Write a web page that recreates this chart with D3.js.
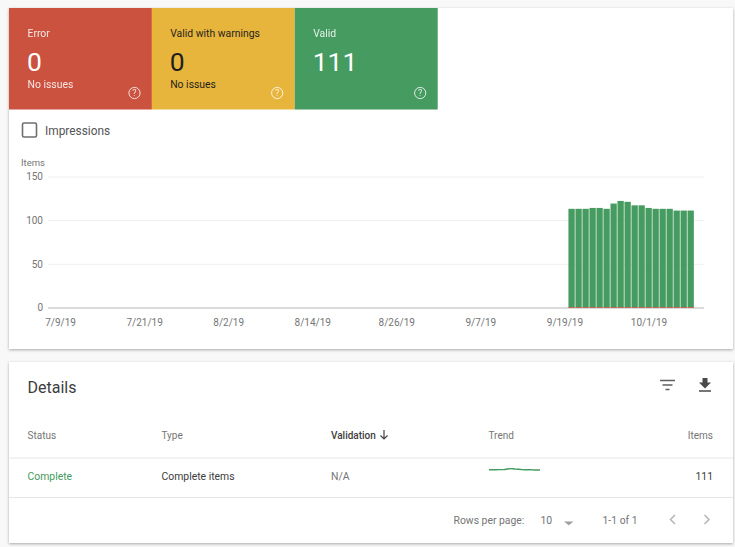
<!DOCTYPE html>
<html>
<head>
<meta charset="utf-8">
<script src="https://cdn.jsdelivr.net/npm/d3@7"></script>
<style>
  html, body { margin: 0; padding: 0; background: #f8f8f8; overflow: hidden; }
  svg { display: block; font-family: Roboto, sans-serif; }
</style>
</head>
<body>
<div id="chart"></div>
<script>
const width = 735, height = 547;

// summary tiles
const tileNames = ["Error", "Valid with warnings", "Valid"];
const tileCounts = ["0", "0", "111"];
const tileNotes = ["No issues", "No issues", ""];
const tileColors = ["#cc5240", "#e8b53c", "#459b60"];
const tileInk = ["#ffffff", "#1f1f1f", "#ffffff"];

// chart data
const firstValidDay = [2019, 8, 20];
const validValues = [113, 113, 113, 114, 114, 113, 119, 122, 121, 117, 117, 114, 113, 113, 113, 111, 111, 111];
const yTicks = [0, 50, 100, 150];
const xTickDays = [[2019, 6, 9], [2019, 6, 21], [2019, 7, 2], [2019, 7, 14], [2019, 7, 26], [2019, 8, 7], [2019, 8, 19], [2019, 9, 1]];

// details table
const columns = ["Status", "Type", "Validation", "Trend", "Items"];
const rowValues = ["Complete", "Complete items", "N/A", "", "111"];

const svg = d3.select("#chart").append("svg")
    .attr("width", width)
    .attr("height", height);

const defs = svg.append("defs");
const shadow = defs.append("filter").attr("id", "shadow")
    .attr("x", "-3%").attr("y", "-5%").attr("width", "106%").attr("height", "112%");
shadow.append("feDropShadow")
    .attr("dx", 0).attr("dy", 1).attr("stdDeviation", 1.5)
    .attr("flood-color", "#000").attr("flood-opacity", 0.32);

// the two cards
svg.selectAll("rect.card")
    .data([[8, 341], [362, 181]])
    .enter().append("rect")
    .attr("class", "card")
    .attr("x", 9).attr("y", d => d[0])
    .attr("width", 724).attr("height", d => d[1])
    .attr("fill", "#fff")
    .attr("filter", "url(#shadow)");

function helpIcon(g, cx, cy, color) {
    g.append("circle").attr("cx", cx).attr("cy", cy).attr("r", 5.6)
        .attr("fill", "none").attr("stroke", color).attr("stroke-width", 1).attr("opacity", 0.8);
    g.append("text").attr("x", cx).attr("y", cy + 3.2)
        .attr("text-anchor", "middle").attr("font-size", 9)
        .attr("fill", color).attr("opacity", 0.8).text("?");
}

// tiles
const tile = svg.selectAll("g.tile")
    .data(tileNames)
    .enter().append("g")
    .attr("class", "tile")
    .attr("transform", (d, i) => `translate(${9 + i * 143 - (i ? 0.3 : 0)},8)`);

tile.append("rect")
    .attr("width", 143).attr("height", 101.5)
    .attr("fill", (d, i) => tileColors[i]);
tile.append("text")
    .attr("x", 18.5).attr("y", 29)
    .attr("font-size", 10.4)
    .attr("fill", (d, i) => tileInk[i])
    .attr("opacity", (d, i) => i === 1 ? 1 : 0.85)
    .text(d => d);
tile.append("text")
    .attr("x", 18).attr("y", 62.5)
    .attr("font-size", 26.5)
    .attr("fill", (d, i) => tileInk[i])
    .text((d, i) => tileCounts[i]);
tile.append("text")
    .attr("x", 18.5).attr("y", 87.5 - 8)
    .attr("font-size", 10.4)
    .attr("fill", (d, i) => tileInk[i])
    .attr("opacity", (d, i) => i === 1 ? 1 : 0.85)
    .text((d, i) => tileNotes[i]);
tile.each(function () {
    helpIcon(d3.select(this), 125.5, 85, "#fff");
});

// impressions checkbox
svg.append("rect")
    .attr("x", 22.5).attr("y", 123)
    .attr("width", 14).attr("height", 14).attr("rx", 1.5)
    .attr("fill", "none").attr("stroke", "#6f6f6f").attr("stroke-width", 1.6);
svg.append("text")
    .attr("x", 45).attr("y", 134.5)
    .attr("font-size", 11.9).attr("fill", "#555").text("Impressions");

// chart
const toDate = d => new Date(d[0], d[1], d[2]);
const validDays = validValues.map((v, i) => d3.timeDay.offset(toDate(firstValidDay), i));
const xTickDates = xTickDays.map(toDate);

const x = d3.scaleTime()
    .domain([xTickDates[0], xTickDates[xTickDates.length - 1]])
    .range([60, 648.5]);
const y = d3.scaleLinear().domain([0, 150]).range([307.5, 176.5]);
const dayWidth = x(d3.timeDay.offset(xTickDates[0], 1)) - x(xTickDates[0]);

const yAxis = svg.append("g")
    .attr("transform", "translate(48,0)")
    .call(d3.axisLeft(y).tickValues(yTicks).tickSize(-656).tickPadding(5));
yAxis.select(".domain").remove();
yAxis.selectAll("line").attr("stroke", d => d === 0 ? "#cfcfcf" : "#f0f0f0")
    .attr("stroke-width", d => d === 0 ? 1.5 : 1);
yAxis.selectAll("text")
    .attr("fill", "#757575").attr("font-size", 10).attr("font-family", "Roboto, sans-serif");

svg.append("text")
    .attr("x", 21).attr("y", 166)
    .attr("font-size", 9.5).attr("fill", "#757575").text("Items");

const fmtDay = d3.timeFormat("%-m/%-d/%y");
const xAxis = svg.append("g")
    .attr("transform", "translate(0,307.5)")
    .call(d3.axisBottom(x).tickValues(xTickDates).tickSize(0).tickPadding(11).tickFormat(fmtDay));
xAxis.select(".domain").remove();
xAxis.selectAll("text")
    .attr("fill", "#757575").attr("font-size", 10).attr("font-family", "Roboto, sans-serif");

svg.selectAll("rect.bar")
    .data(validValues)
    .enter().append("rect")
    .attr("class", "bar")
    .attr("x", (d, i) => x(validDays[i]) - dayWidth / 2 + 0.5)
    .attr("y", d => y(d))
    .attr("width", dayWidth - 0.7)
    .attr("height", d => y(0) - y(d))
    .attr("fill", tileColors[2]);

// error series sits at zero under the bars
svg.selectAll("rect.zero")
    .data(validValues)
    .enter().append("rect")
    .attr("class", "zero")
    .attr("x", (d, i) => x(validDays[i]) - dayWidth / 2 + 0.5)
    .attr("y", y(0) - 0.5)
    .attr("width", dayWidth - 0.7)
    .attr("height", 0.8)
    .attr("fill", tileColors[0]);

// details card
svg.append("text")
    .attr("x", 27.5).attr("y", 393)
    .attr("font-size", 16).attr("fill", "#3c3c3c").text("Details");

const columnX = [27.5, 161.5, 331, 488.5, 713];
svg.selectAll("text.head")
    .data(columns)
    .enter().append("text")
    .attr("class", "head")
    .attr("x", (d, i) => columnX[i]).attr("y", 438.5)
    .attr("text-anchor", (d, i) => i === 4 ? "end" : "start")
    .attr("font-size", 10)
    .attr("font-weight", d => d === "Validation" ? 500 : 400)
    .attr("fill", d => d === "Validation" ? "#3c3c3c" : "#757575")
    .text(d => d);

// sort arrow
svg.append("path")
    .attr("d", "M384 430v9M380.5 435.5l3.5 3.5 3.5-3.5")
    .attr("fill", "none").attr("stroke", "#444").attr("stroke-width", 1.2);

svg.selectAll("line.rule")
    .data([458, 497.5])
    .enter().append("line")
    .attr("class", "rule")
    .attr("x1", 9).attr("x2", 733)
    .attr("y1", d => d).attr("y2", d => d)
    .attr("stroke", "#e6e6e6");

const rowColors = [tileColors[2], "#3c3c3c", "#757575", "#000", "#3c3c3c"];
svg.selectAll("text.cell")
    .data(rowValues)
    .enter().append("text")
    .attr("class", "cell")
    .attr("x", (d, i) => columnX[i]).attr("y", 479.5)
    .attr("text-anchor", (d, i) => i === 4 ? "end" : "start")
    .attr("font-size", 10.4)
    .attr("fill", (d, i) => rowColors[i])
    .text(d => d);

// sparkline in the Trend column, same series as the bars
const sparkX = d3.scaleLinear().domain([0, validValues.length - 1]).range([489, 540]);
const sparkY = d3.scaleLinear().domain([111, 122]).range([470, 468.6]);
svg.append("path")
    .datum(validValues)
    .attr("d", d3.line().x((d, i) => sparkX(i)).y(d => sparkY(d)).curve(d3.curveBasis))
    .attr("fill", "none").attr("stroke", tileColors[2]).attr("stroke-width", 1.4);

// toolbar icons
svg.append("path")
    .attr("d", "M660 380.5h15M662.5 385h10M665.5 389.5h4")
    .attr("fill", "none").attr("stroke", "#5f5f5f").attr("stroke-width", 1.5);
svg.append("path")
    .attr("d", "M702.5 378h5v4.5h3.5l-6 6-6-6h3.5zM699 390.2h12v1.6h-12z")
    .attr("fill", "#4a4a4a");

// pagination
const pagerText = [["Rows per page:", 453.5], ["10", 540.5], ["1-1 of 1", 602.5]];
svg.selectAll("text.pager")
    .data(pagerText)
    .enter().append("text")
    .attr("class", "pager")
    .attr("x", d => d[1]).attr("y", 524)
    .attr("font-size", 10.4)
    .attr("fill", "#757575")
    .text(d => d[0]);
svg.append("path").attr("d", "M564 521.5h9.5l-4.75 3.8z").attr("fill", "#9e9e9e");
svg.append("path")
    .attr("d", "M675 515l-4.5 4.5 4.5 4.5M704.5 515l4.5 4.5-4.5 4.5")
    .attr("fill", "none").attr("stroke", "#b5b5b5").attr("stroke-width", 1.5);
</script>
</body>
</html>
